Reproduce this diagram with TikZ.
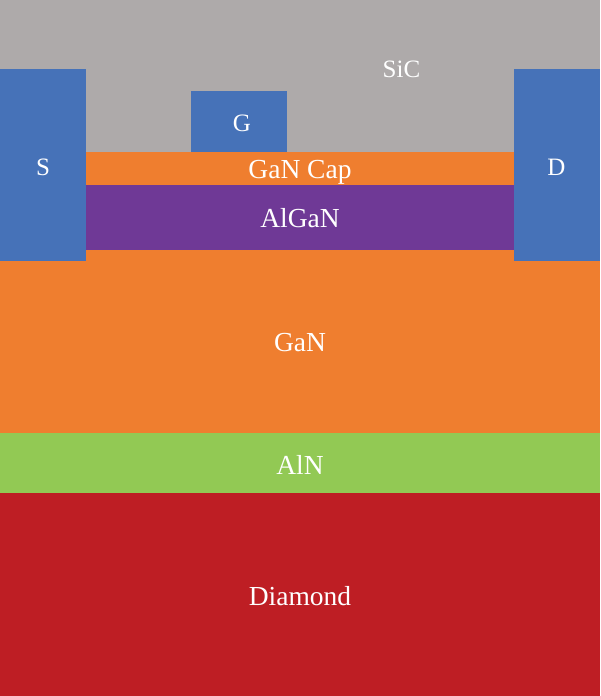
\documentclass[tikz,border=0pt]{standalone}
\usepackage{fontspec}
\setmainfont{Liberation Serif}
\definecolor{sicc}{HTML}{AEAAAA}
\definecolor{ganc}{HTML}{EF7E2F}
\definecolor{algc}{HTML}{6F3996}
\definecolor{alnc}{HTML}{92C954}
\definecolor{diac}{HTML}{BE1E24}
\definecolor{elec}{HTML}{4672B8}
\tikzset{x=1pt,y=-1pt,
 lbl/.style={inner sep=0pt,text=white,font=\fontsize{27.5}{27.5}\selectfont},
 lblsmall/.style={lbl,font=\fontsize{25}{25}\selectfont}}
\begin{document}
\begin{tikzpicture}
\useasboundingbox (0,0) rectangle (600,696);
\fill[sicc] (0,0) rectangle (600,153);
\fill[ganc] (0,152.3) rectangle (600,186);
\fill[algc] (0,185.3) rectangle (600,249.7);
\fill[ganc] (0,249.5) rectangle (600,433);
\fill[alnc] (0,432.7) rectangle (600,493);
\fill[diac] (0,492.5) rectangle (600,696);
\fill[elec] (0,69.3) rectangle (86,260.7);
\fill[elec] (514,69.3) rectangle (600,260.7);
\fill[elec] (191,91.3) rectangle (286.7,152.3);
\node[lblsmall] (sic) at (401.5,69) {SiC};
\node[lblsmall] (s) at (43,167.5) {S};
\node[lblsmall] (d) at (556.5,167.5) {D};
\node[lblsmall] (g) at (242,123) {G};
\node[lbl] (cap) at (300,172) {GaN Cap};
\node[lbl] (algan) at (300,218.5) {AlGaN};
\node[lbl] (gan) at (300,343) {GaN};
\node[lbl] (aln) at (300,464.5) {AlN};
\node[lbl] (dia) at (300,596.5) {Diamond};
\end{tikzpicture}
\end{document}
